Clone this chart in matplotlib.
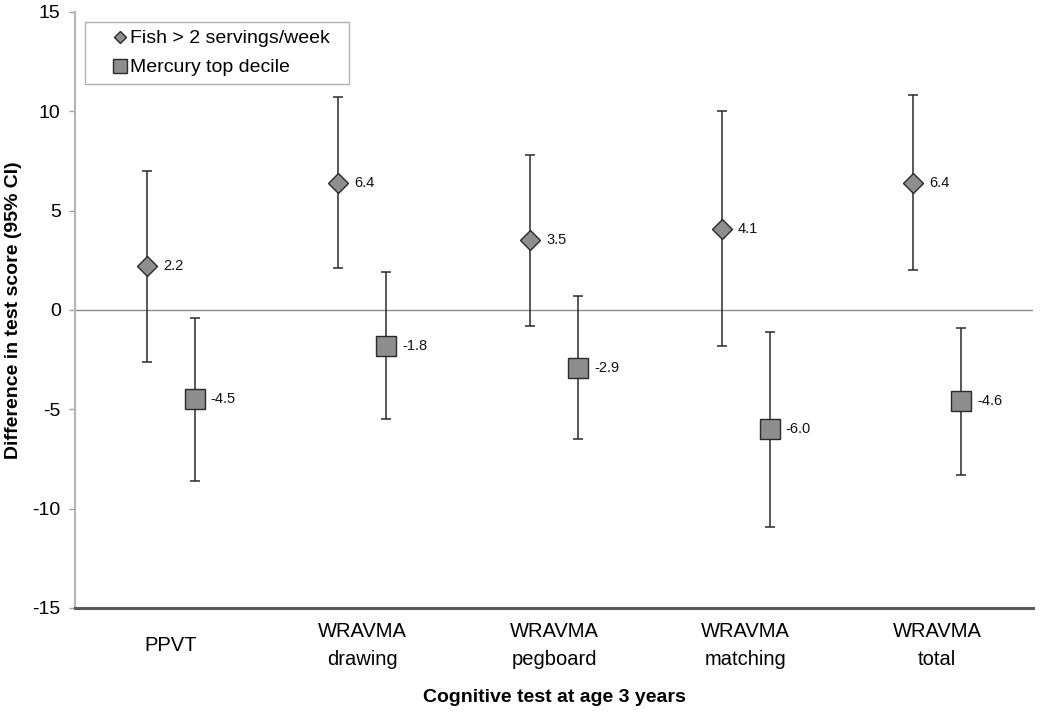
import numpy as np
import matplotlib
matplotlib.use("Agg")
import matplotlib.pyplot as plt
from matplotlib.lines import Line2D

plt.rcParams['font.family'] = ['Liberation Sans', 'DejaVu Sans']
plt.rcParams['axes.unicode_minus'] = False

# Data
tests = ['PPVT', 'WRAVMA\ndrawing', 'WRAVMA\npegboard', 'WRAVMA\nmatching', 'WRAVMA\ntotal']
fish_est = [2.2, 6.4, 3.5, 4.1, 6.4]
fish_lo = [-2.6, 2.1, -0.8, -1.8, 2.0]
fish_hi = [7.0, 10.7, 7.8, 10.0, 10.8]
merc_est = [-4.5, -1.8, -2.9, -6.0, -4.6]
merc_lo = [-8.6, -5.5, -6.5, -10.9, -8.3]
merc_hi = [-0.4, 1.9, 0.7, -1.1, -0.9]

fill = '#8e8e8e'
edge = '#2a2a2a'

fig = plt.figure(figsize=(10.5, 7.15), dpi=100)
ax = fig.add_axes([75 / 1050, 107 / 715, (1033 - 75) / 1050, (608 - 12) / 715])

x = np.arange(len(tests))
off = 0.125

ax.axhline(0, color='#8c8c8c', lw=1, zorder=1)

def draw_series(xs, est, lo, hi, marker, ms):
    est = np.array(est)
    yerr = [est - np.array(lo), np.array(hi) - est]
    ax.errorbar(xs, est, yerr=yerr, fmt='none', ecolor=edge, elinewidth=1.1,
                capsize=3.3, capthick=1.1, zorder=2)
    ax.plot(xs, est, linestyle='none', marker=marker, ms=ms, mfc=fill,
            mec=edge, mew=1.0, zorder=3)
    for xi, v in zip(xs, est):
        ax.annotate(f'{v:.1f}', (xi, v), xytext=(11.5, 0), textcoords='offset points',
                    va='center', ha='left', fontsize=10.5, color='#111111')

draw_series(x - off, fish_est, fish_lo, fish_hi, 'D', 9.8)
draw_series(x + off, merc_est, merc_lo, merc_hi, 's', 14.5)

ax.set_xlim(-0.5, 4.5)
ax.set_ylim(-15, 15)
ax.set_yticks(np.arange(-15, 16, 5))
ax.set_xticks(x)
ax.set_xticklabels(tests, fontsize=14.5, linespacing=1.6)
for lab in ax.get_xticklabels():
    lab.set_va('center')
ax.tick_params(axis='x', length=0, pad=27)
ax.tick_params(axis='y', direction='out', length=4.3, width=1, color='#a0a0a0',
               labelsize=14, pad=6)

for s in ['top', 'right']:
    ax.spines[s].set_visible(False)
ax.spines['left'].set_color('#b4b4b4')
ax.spines['left'].set_linewidth(1.5)
ax.spines['bottom'].set_color('#5a5a5a')
ax.spines['bottom'].set_linewidth(2.2)

ax.set_ylabel('Difference in test score (95% CI)', fontsize=14, fontweight='bold', va='center')
ax.yaxis.set_label_coords((13 - 75) / 958, 0.5)
ax.set_xlabel('Cognitive test at age 3 years', fontsize=14, fontweight='bold', va='center')
ax.xaxis.set_label_coords(0.5, (608 - 697) / 596)

handles = [
    Line2D([], [], linestyle='none', marker='D', ms=6.6, mfc=fill, mec=edge, mew=1.0),
    Line2D([], [], linestyle='none', marker='s', ms=10.5, mfc=fill, mec=edge, mew=1.0),
]
leg = ax.legend(handles, ['Fish > 2 servings/week', 'Mercury top decile'],
                loc='upper left', mode='expand',
                bbox_to_anchor=(85 / 1050, 1 - 80 / 715, 264 / 1050, 58 / 715),
                bbox_transform=fig.transFigure, fontsize=14, fancybox=False,
                frameon=True, edgecolor='#b0b0b0', framealpha=1, handlelength=2.8,
                handletextpad=-0.88, borderpad=0.4, labelspacing=0.59, borderaxespad=0)
leg.get_frame().set_linewidth(1.0)

fig.savefig('out.png', dpi=100)
